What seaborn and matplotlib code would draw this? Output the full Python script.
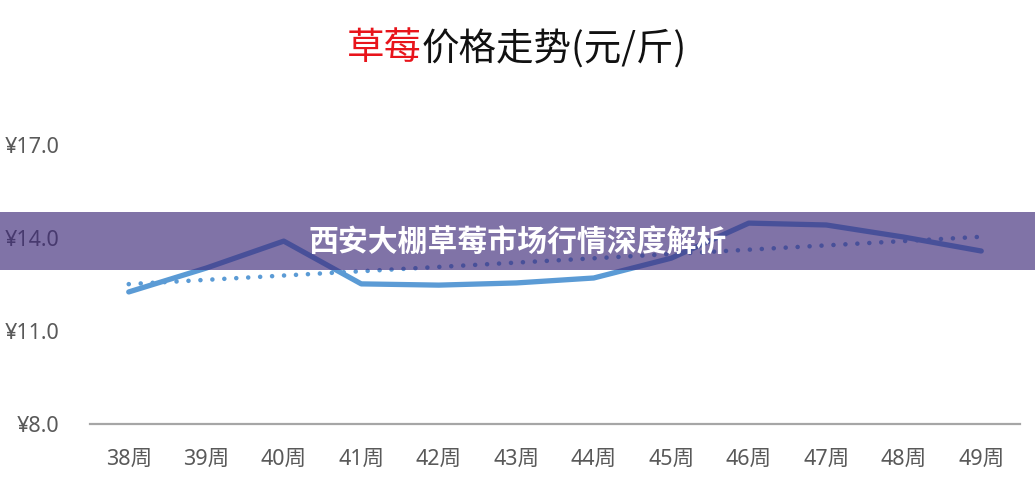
import matplotlib
matplotlib.use("Agg")
import matplotlib.pyplot as plt
import numpy as np
import pandas as pd
import seaborn as sns
from matplotlib.patches import Rectangle

# Data
weeks = ["38周", "39周", "40周", "41周", "42周", "43周",
         "44周", "45周", "46周", "47周", "48周", "49周"]
prices = [12.26, 13.03, 13.90, 12.52, 12.48, 12.55,
          12.71, 13.35, 14.48, 14.42, 14.03, 13.58]
y_ticks = [8.0, 11.0, 14.0, 17.0]

sns.set_theme(style="white")
plt.rcParams["font.family"] = ["Noto Sans CJK SC", "DejaVu Sans"]
tick_fonts = ["Noto Sans", "Noto Sans CJK SC"]

df = pd.DataFrame({"week": weeks, "price": prices, "idx": np.arange(len(weeks))})

W, H = 1035, 483
fig = plt.figure(figsize=(W / 100, H / 100), dpi=100)
ax = fig.add_axes([90 / W, 1 - 424 / H, 930 / W, (424 - 145) / H])

blue = "#5B9BD5"

# price line
sns.lineplot(data=df, x="idx", y="price", ax=ax, color=blue, lw=3.8,
             solid_joinstyle="round", solid_capstyle="round")

# linear trend line (dotted)
sns.regplot(data=df, x="idx", y="price", ax=ax, scatter=False, ci=None,
            truncate=True,
            line_kws=dict(color=blue, lw=3.3, linestyle=(0, (0.01, 2.6)),
                          dash_capstyle="round"))

ax.set_xlim(-0.5, len(weeks) - 0.5)
ax.set_ylim(8, 17)
ax.set_xticks(range(len(weeks)))
ax.set_xticklabels(weeks, family=tick_fonts)
ax.set_yticks(y_ticks)
ax.set_yticklabels([f"¥{v:.1f}" for v in y_ticks], family=tick_fonts)
ax.set_xlabel("")
ax.set_ylabel("")
ax.tick_params(axis="both", length=0, labelsize=15.5, labelcolor="#595959")
ax.tick_params(axis="x", pad=18)
ax.tick_params(axis="y", pad=22)
for s in ["top", "right", "left"]:
    ax.spines[s].set_visible(False)
ax.spines["bottom"].set_color("#A6A6A6")
ax.spines["bottom"].set_linewidth(1.6)

# title, first two characters in red
ty = 1 - 49 / H
fig.text(422 / W, ty, "草莓", color="#E8141B", fontsize=27, ha="right", va="center")
fig.text(422 / W, ty, "价格走势(元/斤)", color="#111111", fontsize=27, ha="left", va="center")

# purple banner over the chart
banner = Rectangle((0, 1 - 270 / H), 1, 58 / H, transform=fig.transFigure,
                   facecolor="#3F2A7A", alpha=0.66, edgecolor="none", zorder=5)
fig.add_artist(banner)
fig.text(0.5, 1 - 243 / H, "西安大棚草莓市场行情深度解析", color="white",
         fontsize=21.5, fontweight="heavy", ha="center", va="center", zorder=6)

fig.savefig("out.png", dpi=100)
